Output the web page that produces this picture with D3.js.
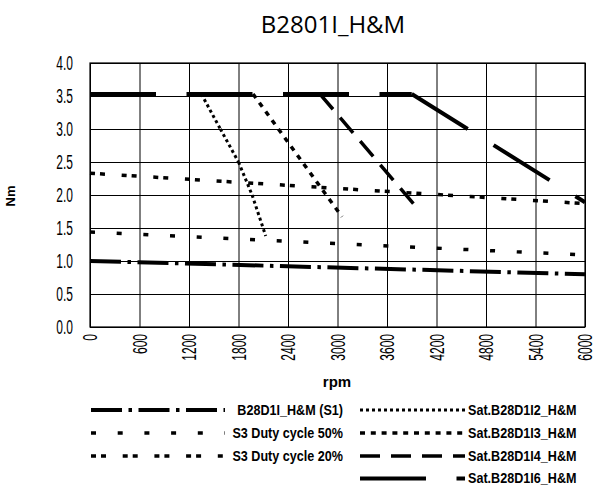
<!DOCTYPE html>
<html>
<head>
<meta charset="utf-8">
<script src="https://cdn.jsdelivr.net/npm/d3@7"></script>
<style>
  body { margin: 0; background: #fff; }
  text { fill: #000; }
</style>
</head>
<body>
<div id="chart"></div>
<script>
// tick values
var xTicks = [0, 600, 1200, 1800, 2400, 3000, 3600, 4200, 4800, 5400, 6000];
var yTicks = [0, 0.5, 1, 1.5, 2, 2.5, 3, 3.5, 4];

// curves (rpm / Nm)
var s1Rpm = [0, 6000];
var s1Nm = [1.0, 0.80];

var s50Rpm = [0, 6000];
var s50Nm = [1.44, 1.09];

var s20Rpm = [0, 6000];
var s20Nm = [2.33, 1.87];

var i2Rpm = [1350, 1580, 1800, 1965, 2130];
var i2Nm = [3.53, 3.0, 2.5, 2.0, 1.38];

var i3Rpm = [1976, 3055];
var i3Nm = [3.53, 1.67];

var i4Rpm = [2788, 3960];
var i4Nm = [3.53, 1.81];

var i6Rpm = [0, 3900, 6000];
var i6Nm = [3.53, 3.53, 1.89];

var seriesNames = ["B28D1I_H&M (S1)", "S3 Duty cycle 50%", "S3 Duty cycle 20%",
  "Sat.B28D1I2_H&M", "Sat.B28D1I3_H&M", "Sat.B28D1I4_H&M", "Sat.B28D1I6_H&M"];

var svgWidth = 595;
var svgHeight = 488;

var margin = {
  top: 63,
  right: 10,
  bottom: 161,
  left: 90
};

var width = svgWidth - margin.left - margin.right;
var height = svgHeight - margin.top - margin.bottom;

var svg = d3.select("#chart")
  .append("svg")
  .attr("width", svgWidth)
  .attr("height", svgHeight);

var chartGroup = svg.append("g")
  .attr("transform", `translate(${margin.left}, ${margin.top})`);

var xLinearScale = d3.scaleLinear()
  .domain([0, 6000])
  .range([0, width]);

var yLinearScale = d3.scaleLinear()
  .domain([0, 4])
  .range([height, 0]);

// grid
chartGroup.append("g")
  .attr("transform", `translate(0, ${height})`)
  .call(d3.axisBottom(xLinearScale).tickValues(xTicks).tickSize(-height).tickFormat(""))
  .call(g => g.select(".domain").remove())
  .selectAll("line").attr("stroke", "#000").attr("stroke-width", 1);

chartGroup.append("g")
  .call(d3.axisLeft(yLinearScale).tickValues(yTicks).tickSize(-width).tickFormat(""))
  .call(g => g.select(".domain").remove())
  .selectAll("line").attr("stroke", "#000").attr("stroke-width", 1);

chartGroup.append("rect")
  .attr("width", width)
  .attr("height", height)
  .attr("fill", "none")
  .attr("stroke", "#000")
  .attr("stroke-width", 1.2);

// tick labels (narrow light look)
chartGroup.selectAll(".ylab")
  .data(yTicks)
  .enter()
  .append("text")
  .attr("class", "ylab")
  .attr("transform", d => `translate(-17, ${yLinearScale(d)}) scale(0.6, 1)`)
  .attr("dy", "0.36em")
  .attr("text-anchor", "end")
  .attr("font-family", "Liberation Sans, Arial, sans-serif")
  .attr("font-size", 20)
  .text(d => d.toFixed(1));

chartGroup.selectAll(".xlab")
  .data(xTicks)
  .enter()
  .append("text")
  .attr("class", "xlab")
  .attr("transform", d => `translate(${xLinearScale(d)}, ${height + 7}) rotate(-90) scale(0.6, 1)`)
  .attr("dy", "0.36em")
  .attr("text-anchor", "end")
  .attr("font-family", "Liberation Sans, Arial, sans-serif")
  .attr("font-size", 20)
  .text(d => d);

// styles of the curves
var styles = [
  { w: 4, dash: "31,6.5,3.5,6.5" },
  { w: 3.5, dash: "5,21.7" },
  { w: 3.5, dash: "5,5,5,16.7" },
  { w: 3, dash: "3,3" },
  { w: 3.5, dash: "5,5.8" },
  { w: 3.5, dash: "20,11" },
  { w: 4, dash: "66,30.5" }
];

var curves = [
  [s1Rpm, s1Nm], [s50Rpm, s50Nm], [s20Rpm, s20Nm],
  [i2Rpm, i2Nm], [i3Rpm, i3Nm], [i4Rpm, i4Nm], [i6Rpm, i6Nm]
];

var line = d3.line()
  .x(d => xLinearScale(d[0]))
  .y(d => yLinearScale(d[1]));

// each segment is drawn on its own, so the dash pattern restarts at every point
curves.forEach(function(c, k) {
  var pts = c[0].map((r, i) => [r, c[1][i]]);
  for (var i = 0; i < pts.length - 1; i++) {
    chartGroup.append("path")
      .datum([pts[i], pts[i + 1]])
      .attr("d", line)
      .attr("fill", "none")
      .attr("stroke", "#000")
      .attr("stroke-width", styles[k].w)
      .attr("stroke-dasharray", styles[k].dash);
  }
});

// axis titles
svg.append("text")
  .attr("x", 333)
  .attr("y", 33)
  .attr("text-anchor", "middle")
  .attr("font-family", "Open Sans, sans-serif")
  .attr("font-size", 24)
  .text("B2801I_H&M");

svg.append("text")
  .attr("transform", "translate(10, 196) rotate(-90)")
  .attr("dy", "0.36em")
  .attr("text-anchor", "middle")
  .attr("font-family", "Liberation Sans, Arial, sans-serif")
  .attr("font-weight", "bold")
  .attr("font-size", 13)
  .text("Nm");

svg.append("text")
  .attr("x", 337)
  .attr("y", 387)
  .attr("text-anchor", "middle")
  .attr("font-family", "Liberation Sans, Arial, sans-serif")
  .attr("font-weight", "bold")
  .attr("font-size", 15)
  .text("rpm");

// legend
var legendRows = [410, 433, 456, 478.5];
var legendPos = [[0, 0], [0, 1], [0, 2], [1, 0], [1, 1], [1, 2], [1, 3]];
var legendCols = [
  { x1: 91, x2: 225, tx: 343, anchor: "end" },
  { x1: 360, x2: 465, tx: 468, anchor: "start" }
];

seriesNames.forEach(function(name, k) {
  var col = legendCols[legendPos[k][0]];
  var y = legendRows[legendPos[k][1]];
  svg.append("line")
    .attr("x1", col.x1)
    .attr("x2", col.x2)
    .attr("y1", y)
    .attr("y2", y)
    .attr("stroke", "#000")
    .attr("stroke-width", styles[k].w)
    .attr("stroke-dasharray", styles[k].dash);
  svg.append("text")
    .attr("transform", `translate(${col.tx}, ${y}) scale(0.84, 1)`)
    .attr("dy", "0.33em")
    .attr("text-anchor", col.anchor)
    .attr("font-family", "Liberation Sans, Arial, sans-serif")
    .attr("font-weight", "bold")
    .attr("font-size", 15)
    .text(name);
});
</script>
</body>
</html>
